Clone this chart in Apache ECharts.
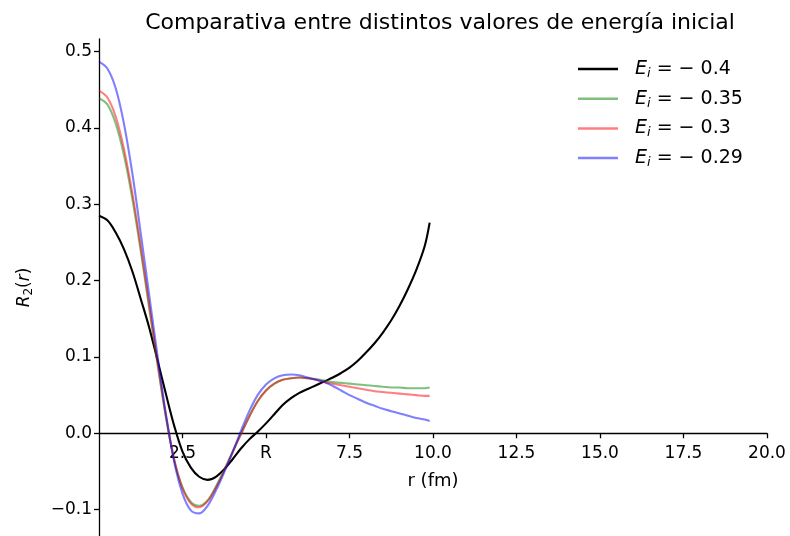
<!DOCTYPE html>
<html>
<head>
<meta charset="utf-8">
<script src="https://cdn.jsdelivr.net/npm/echarts@6/dist/echarts.min.js"></script>
<style>html,body{margin:0;padding:0;background:#fff}#c{width:790px;height:536px}</style>
</head>
<body>
<div id="c"></div>
<script>
const r = [0,0.25,0.5,0.75,1.0,1.25,1.5,1.75,2.0,2.25,2.5,2.75,3.0,3.25,3.5,3.75,4.0,4.25,4.5,4.75,5.0,5.25,5.5,5.75,6.0,6.25,6.5,6.75,7.0,7.25,7.5,7.75,8.0,8.25,8.5,8.75,9.0,9.25,9.5,9.75,9.9];
const e040 = [0.285,0.279,0.263,0.241,0.212,0.176,0.139,0.096,0.052,0.010,-0.024,-0.045,-0.057,-0.061,-0.057,-0.047,-0.034,-0.020,-0.008,0.002,0.013,0.025,0.037,0.046,0.053,0.058,0.063,0.068,0.073,0.079,0.086,0.095,0.106,0.118,0.132,0.148,0.167,0.189,0.214,0.245,0.276];
const e035 = [0.439,0.431,0.406,0.364,0.307,0.239,0.165,0.091,0.022,-0.035,-0.071,-0.090,-0.095,-0.088,-0.070,-0.048,-0.024,-0.001,0.022,0.042,0.056,0.065,0.070,0.072,0.073,0.072,0.071,0.069,0.067,0.066,0.065,0.064,0.063,0.062,0.061,0.060,0.060,0.059,0.059,0.059,0.060];
const e030 = [0.449,0.440,0.415,0.372,0.314,0.244,0.169,0.094,0.024,-0.034,-0.072,-0.092,-0.097,-0.089,-0.071,-0.049,-0.025,-0.001,0.022,0.042,0.056,0.065,0.070,0.072,0.073,0.072,0.070,0.067,0.065,0.063,0.061,0.059,0.057,0.055,0.054,0.053,0.052,0.051,0.050,0.049,0.049];
const e029 = [0.487,0.478,0.452,0.405,0.340,0.262,0.182,0.102,0.026,-0.037,-0.079,-0.101,-0.105,-0.095,-0.075,-0.051,-0.025,0.003,0.029,0.050,0.064,0.072,0.076,0.077,0.076,0.073,0.070,0.067,0.062,0.056,0.050,0.045,0.040,0.036,0.032,0.029,0.026,0.023,0.020,0.018,0.016];
const seriesNames = ['−0.4','−0.35','−0.3','−0.29'];
const seriesColors = ['#000000','rgba(0,128,0,0.5)','rgba(255,0,0,0.5)','rgba(0,0,255,0.5)'];
const xTicks = [2.5,5,7.5,10,12.5,15,17.5,20];
const yTicks = [-0.1,0,0.1,0.2,0.3,0.4,0.5];
const F = 'DejaVu Sans';

const Y_MIN = -0.1346, Y_MAX = 0.5166, GRID_TOP = 39, GRID_H = 536 - GRID_TOP;
const zeroOffset = GRID_H * (0 - Y_MIN) / (Y_MAX - Y_MIN);

const allVals = [e040,e035,e030,e029];
const series = allVals.map((vals,k)=>({
  name: seriesNames[k], type:'line', smooth:0.35, showSymbol:false, symbol:'none',
  data: r.map((x,i)=>[x,vals[i]]),
  lineStyle:{color:seriesColors[k], width:2.1},
  itemStyle:{color:seriesColors[k]},
  z: 2+k
}));

const chart = echarts.init(document.getElementById('c'), null, {renderer:'canvas'});
chart.setOption({
  animation:false,
  backgroundColor:'#ffffff',
  title:{text:'Comparativa entre distintos valores de energía inicial', left:435, textAlign:'center', top:7,
    textStyle:{fontFamily:F, fontSize:22, fontWeight:'normal', color:'#000'}},
  grid:{left:99, right:23, top:GRID_TOP, bottom:0, containLabel:false, outerBoundsMode:'none'},
  legend:{orient:'vertical', left:573, top:53, itemWidth:40, itemHeight:2.5, icon:'rect', itemGap:7.7,
    data: seriesNames,
    formatter: n => '{e|E}{s|i}{n| = ' + n.replace('−','− ') + '}',
    textStyle:{fontFamily:F, color:'#000', rich:{
      e:{fontFamily:F, fontStyle:'italic', fontSize:19, lineHeight:22, padding:[0,0,0,12]},
      s:{fontFamily:F, fontStyle:'italic', fontSize:13, lineHeight:22, verticalAlign:'bottom', padding:[9,0,0,0]},
      n:{fontFamily:F, fontSize:19, lineHeight:22}
    }}},
  xAxis:{type:'value', min:0, max:20, offset: -zeroOffset,
    name:'r (fm)', nameLocation:'middle', nameGap:39,
    nameTextStyle:{fontFamily:F, fontSize:18, color:'#000'},
    axisLine:{onZero:false, lineStyle:{color:'#000', width:1.3}},
    axisTick:{show:true, length:5, lineStyle:{color:'#000', width:1.3}, customValues:xTicks},
    axisLabel:{fontFamily:F, fontSize:17, color:'#000', margin:12, customValues:xTicks,
      formatter: v => (v===5 ? 'R' : v.toFixed(1))},
    splitLine:{show:false}},
  yAxis:{type:'value', min:Y_MIN, max:Y_MAX,
    name:'{i|R}{s|2}{n|(}{i|r}{n|)}', nameLocation:'middle', nameGap:64, nameRotate:90,
    nameTextStyle:{fontFamily:F, color:'#000', rich:{
      i:{fontFamily:F, fontStyle:'italic', fontSize:17},
      s:{fontFamily:F, fontSize:12, verticalAlign:'bottom', padding:[8,0,0,0]},
      n:{fontFamily:F, fontSize:17}
    }},
    axisLine:{onZero:false, lineStyle:{color:'#000', width:1.3}},
    axisTick:{show:true, length:5, lineStyle:{color:'#000', width:1.3}, customValues:yTicks},
    axisLabel:{fontFamily:F, fontSize:17, color:'#000', margin:7, customValues:yTicks,
      formatter: v => v.toFixed(1).replace('-','−')},
    splitLine:{show:false}},
  series: series
});
</script>
</body>
</html>
